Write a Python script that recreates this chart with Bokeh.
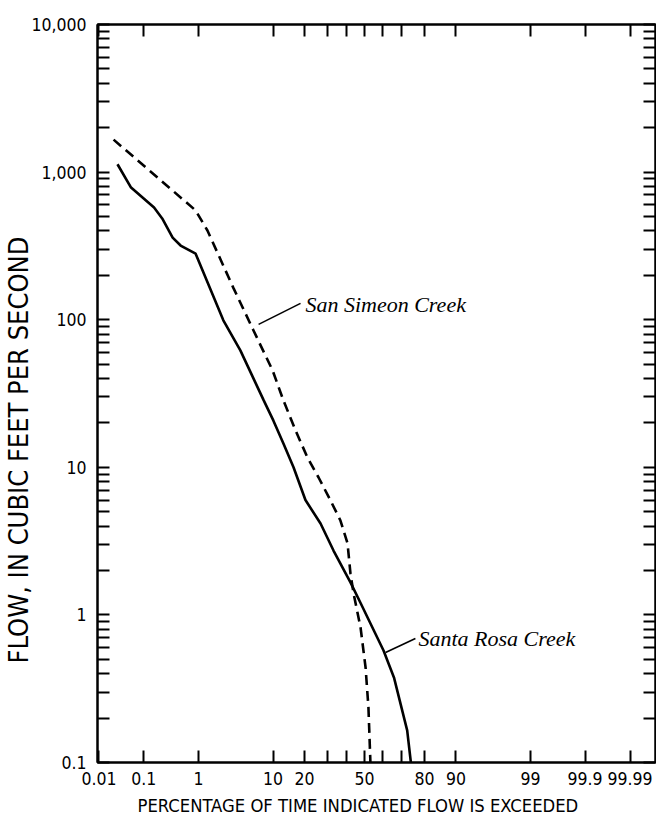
from statistics import NormalDist
from bokeh.plotting import figure
from bokeh.models import (Range1d, FixedTicker, LinearAxis, LogAxis,
                          CustomJSTickFormatter, Label, Title)
from bokeh.embed import file_html
from bokeh.resources import INLINE

# ---- data (percent of time exceeded, flow in cfs) ----
santa_rosa_pct = [0.027, 0.053, 0.16, 0.23, 0.36, 0.5, 0.9, 2.4, 4.1, 7.9,
                  10.1, 12.8, 16, 20.4, 26.9, 33.2, 42.2, 48, 60.5, 66, 72.5, 74.2]
santa_rosa_cfs = [1130, 790, 575, 485, 360, 318, 280, 99, 62, 28.4,
                  20.7, 14.5, 10, 6.0, 4.16, 2.73, 1.66, 1.19, 0.574, 0.377, 0.165, 0.1]

san_simeon_pct = [0.022, 0.9, 1.39, 3.3, 6.0, 9.9, 12.8, 16.7, 21.2, 26, 31.7,
                  36.8, 40.6, 42.2, 43.9, 47.8, 50.6, 52.2, 53.3]
san_simeon_cfs = [1660, 550, 402, 165, 84.5, 45.3, 28.4, 17.8, 11.65, 8.53, 5.96,
                  4.36, 3.05, 1.91, 1.40, 0.82, 0.44, 0.236, 0.1]

x_tick_pct = [0.01, 0.1, 1, 10, 20, 30, 40, 50, 60, 70, 80, 90, 99, 99.9, 99.99]
x_tick_labels = ["0.01", "0.1", "1", "10", "20", "", "", "50", "", "", "80", "90",
                 "99", "99.9", "99.99"]
y_major = [0.1, 1, 10, 100, 1000, 10000]
y_tick_labels = ["0.1", "1", "10", "100", "1,000", "10,000"]

x_title = "PERCENTAGE OF TIME INDICATED FLOW IS EXCEEDED"
y_title = "FLOW, IN CUBIC FEET PER SECOND"

# annotation anchors (percent, cfs)
san_simeon_leader_pct = [6.9, 18.5]
san_simeon_leader_cfs = [93, 129]
san_simeon_text_at = (20.4, 127)
santa_rosa_leader_pct = [61.6, 76.2]
santa_rosa_leader_cfs = [0.556, 0.692]
santa_rosa_text_at = (77.5, 0.69)

nd = NormalDist()


def probit(pcts):
    return [nd.inv_cdf(v / 100.0) for v in pcts]


SANS = "DejaVu Sans Condensed"
SERIF = "Liberation Serif"
W, H = 656, 824

p = figure(width=W, height=H,
           x_range=Range1d(-3.74, 4.076), y_range=Range1d(0.1, 10000),
           y_axis_type="log", output_backend="svg", toolbar_location=None,
           min_border_left=97, min_border_right=1, min_border_top=24,
           min_border_bottom=62)
p.grid.visible = False
p.outline_line_color = "black"
p.outline_line_width = 2
p.background_fill_color = "white"
p.border_fill_color = "white"

x_ticks_z = probit(x_tick_pct)
y_minor = [m * d for d in y_major[:-1] for m in range(2, 10)]

x_formatter = CustomJSTickFormatter(args=dict(tz=x_ticks_z, labels=x_tick_labels), code="""
let best = 0, bd = Infinity;
for (let i = 0; i < tz.length; i++) { const d = Math.abs(tz[i] - tick); if (d < bd) { bd = d; best = i; } }
return labels[best];
""")
y_formatter = CustomJSTickFormatter(args=dict(tv=y_major, labels=y_tick_labels), code="""
let best = 0, bd = Infinity;
for (let i = 0; i < tv.length; i++) { const d = Math.abs(Math.log10(tv[i]) - Math.log10(tick)); if (d < bd) { bd = d; best = i; } }
return labels[best];
""")
blank = CustomJSTickFormatter(code="return '';")


def style_axis(ax):
    ax.axis_line_width = 2
    ax.axis_line_color = "black"
    ax.major_tick_in = 12
    ax.major_tick_out = 0
    ax.minor_tick_in = 12
    ax.minor_tick_out = 0
    ax.major_tick_line_width = 2
    ax.minor_tick_line_width = 2
    ax.major_tick_line_color = "black"
    ax.minor_tick_line_color = "black"
    ax.major_label_text_font = SANS
    ax.major_label_text_font_size = "17.5px"
    ax.major_label_text_color = "black"


xt = FixedTicker(ticks=x_ticks_z, minor_ticks=[])
yt = FixedTicker(ticks=y_major, minor_ticks=y_minor)

xb = p.xaxis[0]
xb.ticker = xt
xb.formatter = x_formatter
style_axis(xb)
xb.major_label_standoff = 9

yl = p.yaxis[0]
yl.ticker = yt
yl.formatter = y_formatter
style_axis(yl)
yl.major_label_standoff = 11

xa = LinearAxis(ticker=xt, formatter=blank)
style_axis(xa)
xa.major_label_standoff = 0
p.add_layout(xa, "above")

yr = LogAxis(ticker=yt, formatter=blank)
style_axis(yr)
yr.major_label_standoff = 0
p.add_layout(yr, "right")

# axis titles as side titles (offset along the side)
p.add_layout(Title(text=x_title, align="left", offset=40, standoff=11,
                   text_font=SANS, text_font_size="18.3px",
                   text_font_style="normal", text_color="black"), "below")
p.add_layout(Title(text=y_title, align="left", offset=99, standoff=-11,
                   text_font=SANS, text_font_size="27px",
                   text_font_style="normal", text_color="black"), "left")

# curves
p.line(probit(santa_rosa_pct), santa_rosa_cfs, line_color="black", line_width=2.6)
p.line(probit(san_simeon_pct), san_simeon_cfs, line_color="black", line_width=2.6,
       line_dash="10 6")

# leaders and labels
p.line(probit(san_simeon_leader_pct), san_simeon_leader_cfs, line_color="black", line_width=1.6)
p.line(probit(santa_rosa_leader_pct), santa_rosa_leader_cfs, line_color="black", line_width=1.6)

for txt, (xp, yc) in [("San Simeon Creek", san_simeon_text_at),
                      ("Santa Rosa Creek", santa_rosa_text_at)]:
    p.add_layout(Label(x=nd.inv_cdf(xp / 100.0), y=yc, text=txt,
                       text_font=SERIF, text_font_style="italic",
                       text_font_size="22px", text_color="black",
                       text_baseline="alphabetic", text_align="left"))

open("out.html", "w").write(file_html(p, INLINE))
